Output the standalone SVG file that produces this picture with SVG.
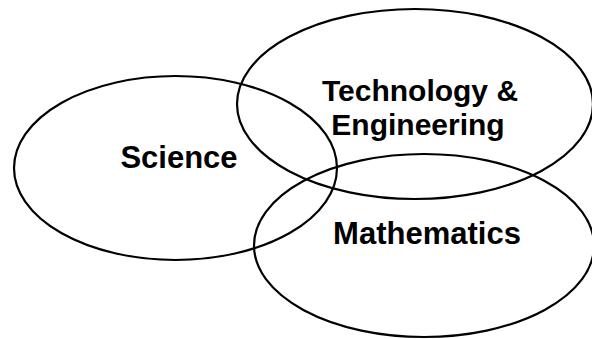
<svg xmlns="http://www.w3.org/2000/svg" width="592" height="339" viewBox="0 0 592 339">
<style>
.ov{fill:none;stroke:#000;stroke-width:2.2}
.lb{font-family:"Liberation Sans",Arial,sans-serif;font-weight:bold;font-size:31px;fill:#000;text-anchor:middle}
.tl{font-size:30px}
</style>
<rect width="592" height="339" fill="#fff"/>
<g id="science">
<ellipse class="ov" cx="175.5" cy="168" rx="161.5" ry="92"/>
<text class="lb" x="179" y="168">Science</text>
</g>
<g id="technology">
<ellipse class="ov" cx="415" cy="104" rx="178" ry="95"/>
<text class="lb tl" x="420" y="101">Technology &amp;</text>
<text class="lb tl" x="418" y="135">Engineering</text>
</g>
<g id="mathematics">
<ellipse class="ov" cx="424" cy="245.5" rx="170" ry="91.5"/>
<text class="lb" x="427" y="244">Mathematics</text>
</g>
<g id="connectors"/>
</svg>
